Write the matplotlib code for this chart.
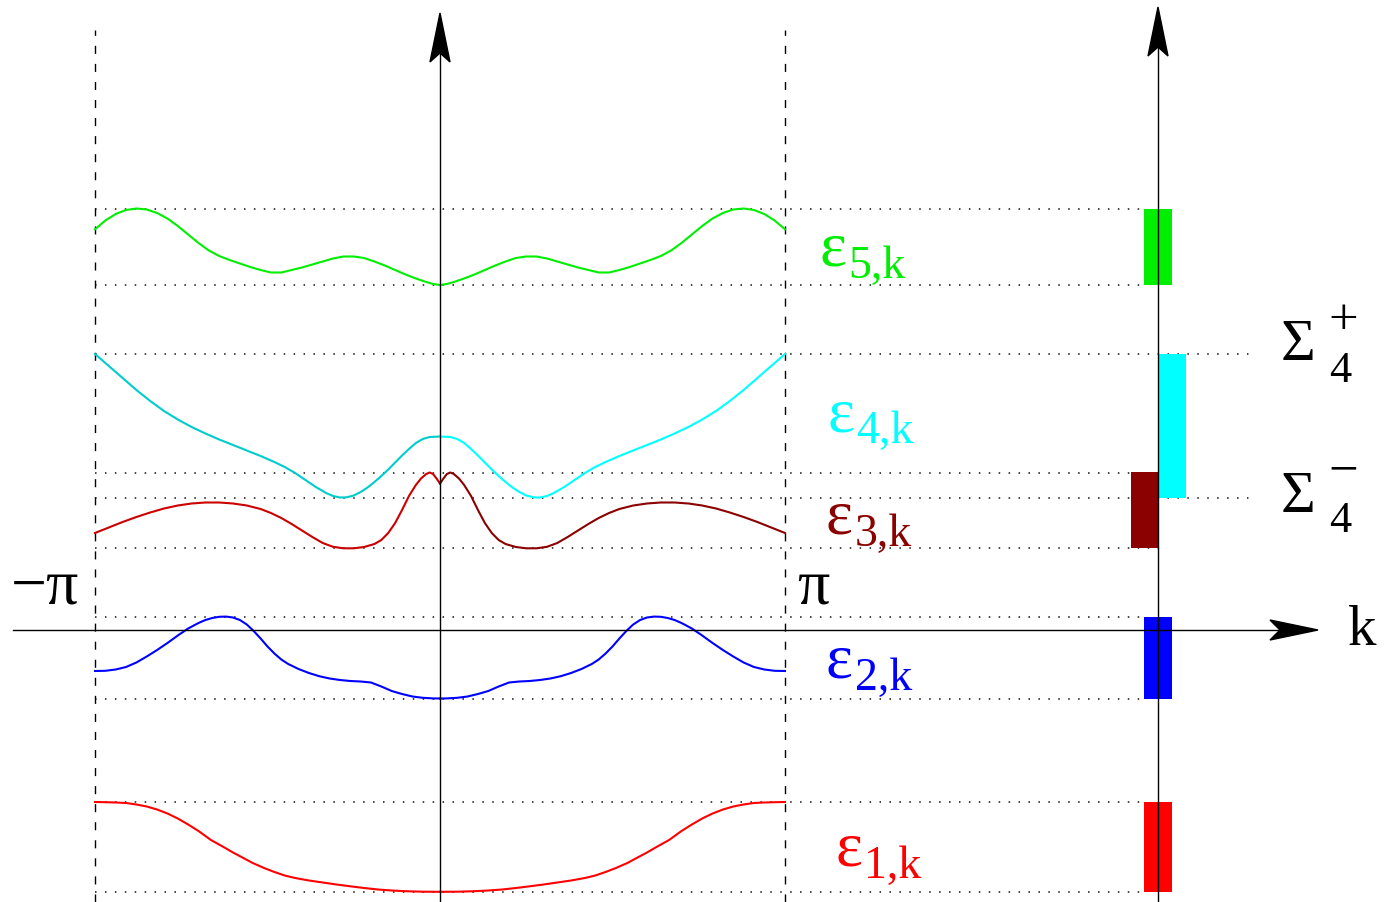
import numpy as np
import matplotlib
matplotlib.use('Agg')
import matplotlib.pyplot as plt
from matplotlib.patches import Rectangle, Polygon

# bands, k in units of pi, half zone (-1 .. 0); mirrored to 0 .. 1
k1 = [-1.00, -0.97, -0.94, -0.91, -0.88, -0.85, -0.82, -0.79, -0.76, -0.73,
      -0.70, -0.664, -0.63, -0.60, -0.57, -0.543, -0.51, -0.48, -0.45, -0.42,
      -0.38, -0.34, -0.30, -0.26, -0.22, -0.18, -0.14, -0.10, -0.05, 0.00]
e1 = [-1.72, -1.722, -1.725, -1.73, -1.745, -1.765, -1.795, -1.835, -1.885, -1.945,
      -2.01, -2.10, -2.165, -2.225, -2.28, -2.33, -2.38, -2.42, -2.455, -2.48,
      -2.505, -2.525, -2.545, -2.563, -2.58, -2.595, -2.605, -2.612, -2.617, -2.618]

k2 = [-1.00, -0.97, -0.94, -0.91, -0.88, -0.85, -0.82, -0.79, -0.76, -0.73,
      -0.70, -0.68, -0.66, -0.64, -0.62, -0.60, -0.58, -0.56, -0.54, -0.52,
      -0.50, -0.48, -0.46, -0.44, -0.41, -0.38, -0.35, -0.32, -0.29, -0.26,
      -0.23, -0.20, -0.17, -0.14, -0.11, -0.08, -0.05, -0.02, 0.00]
e2 = [-0.41, -0.408, -0.395, -0.37, -0.325, -0.265, -0.20, -0.13, -0.055, 0.015,
      0.07, 0.10, 0.12, 0.132, 0.134, 0.125, 0.10, 0.055, -0.01, -0.085,
      -0.165, -0.235, -0.295, -0.34, -0.39, -0.43, -0.462, -0.485, -0.50, -0.51,
      -0.515, -0.525, -0.565, -0.61, -0.64, -0.665, -0.678, -0.684, -0.685]

k3 = [-1.00, -0.96, -0.92, -0.88, -0.84, -0.80, -0.76, -0.72, -0.68, -0.64,
      -0.60, -0.56, -0.52, -0.49, -0.46, -0.43, -0.40, -0.37, -0.34, -0.31,
      -0.28, -0.25, -0.22, -0.19, -0.17, -0.15, -0.13, -0.11, -0.09, -0.07,
      -0.055, -0.04, -0.03, -0.02, -0.01, 0.00]
e3 = [0.97, 1.025, 1.08, 1.13, 1.175, 1.215, 1.245, 1.265, 1.275, 1.275,
      1.265, 1.245, 1.21, 1.17, 1.12, 1.06, 0.995, 0.93, 0.87, 0.832,
      0.817, 0.817, 0.83, 0.86, 0.90, 0.97, 1.07, 1.20, 1.34, 1.45,
      1.515, 1.56, 1.575, 1.56, 1.515, 1.465]

k4 = [-1.00, -0.96, -0.92, -0.88, -0.84, -0.80, -0.76, -0.72, -0.68, -0.64,
      -0.60, -0.56, -0.52, -0.48, -0.45, -0.42, -0.39, -0.36, -0.33, -0.31,
      -0.29, -0.27, -0.25, -0.23, -0.21, -0.19, -0.17, -0.15, -0.13, -0.11,
      -0.09, -0.07, -0.05, -0.03, 0.00]
e4 = [2.76, 2.64, 2.52, 2.40, 2.29, 2.19, 2.105, 2.03, 1.965, 1.905,
      1.85, 1.795, 1.74, 1.68, 1.63, 1.57, 1.50, 1.43, 1.37, 1.34,
      1.325, 1.327, 1.345, 1.38, 1.425, 1.48, 1.54, 1.605, 1.675, 1.745,
      1.81, 1.87, 1.91, 1.93, 1.935]

k5 = [-1.00, -0.97, -0.94, -0.91, -0.88, -0.85, -0.82, -0.79, -0.76, -0.73,
      -0.70, -0.67, -0.64, -0.61, -0.58, -0.55, -0.52, -0.49, -0.46, -0.43,
      -0.40, -0.37, -0.34, -0.31, -0.28, -0.25, -0.22, -0.19, -0.16, -0.13,
      -0.10, -0.07, -0.04, -0.02, 0.00]
e5 = [4.007, 4.095, 4.16, 4.20, 4.215, 4.205, 4.17, 4.115, 4.04, 3.955,
      3.87, 3.795, 3.74, 3.70, 3.665, 3.63, 3.60, 3.575, 3.575, 3.60,
      3.625, 3.655, 3.685, 3.715, 3.735, 3.735, 3.72, 3.685, 3.645, 3.60,
      3.555, 3.515, 3.48, 3.46, 3.45]

band_names = ['1,k', '2,k', '3,k', '4,k', '5,k']

SERIF = 'Liberation Serif'
X0, Y0 = 440.0, 630.0   # pixel of k=0, E=0
SX, SY = 345.0, 100.0   # pixels per unit


def ux(p):
    return (p - X0) / SX


def uy(p):
    return (Y0 - p) / SY


fig = plt.figure(figsize=(13.86, 9.02), dpi=100)
ax = fig.add_axes([0, 0, 1, 1])
ax.set_xlim(ux(0), ux(1386))
ax.set_ylim(uy(902), uy(0))
ax.axis('off')

kax = ux(1158)          # position of the right energy axis
w = 27.5 / SX           # width of the band bars
dot = (0, (1, 5.5))
dash = (0, (5.8, 7.2))

# (k, E, colour left, colour right, bar offset, dotted line ends, label colour, label pos)
bands = [
    (k1, e1, '#ff0000', '#ff0000', -w / 2, (1145, 1145), '#ff0000', (835, 878)),
    (k2, e2, '#0000ff', '#0000ff', -w / 2, (1145, 1145), '#0000ff', (826, 690)),
    (k3, e3, '#cc0000', '#8b0000', -w, (1165, 1130), '#8b0000', (826, 546)),
    (k4, e4, '#00cccc', '#00ffff', 0.0, (1250, 1250), '#00ffff', (827, 443)),
    (k5, e5, '#00ee00', '#00ee00', -w / 2, (1145, 1145), '#00ee00', (819, 278)),
]

for i, (k, e, cl, cr, off, ends, lc, lpos) in enumerate(bands):
    k = np.array(k)
    e = np.array(e)
    ax.plot(k, e, color=cl, lw=1.5, zorder=4, solid_joinstyle='round')
    ax.plot(-k[::-1], e[::-1], color=cr, lw=1.5, zorder=4, solid_joinstyle='round')
    lo, hi = e.min(), e.max()
    ax.plot([-1, ux(ends[0])], [lo, lo], color='#111111', lw=1.1, ls=dot, zorder=1)
    ax.plot([-1, ux(ends[1])], [hi, hi], color='#111111', lw=1.1, ls=dot, zorder=1)
    ax.add_patch(Rectangle((kax + off, lo), w, hi - lo, color=cr, lw=0, zorder=3))
    ax.text(ux(lpos[0]), uy(lpos[1] - 12), 'ε', fontsize=46, color=lc,
            family=SERIF, va='baseline', ha='left')
    ax.text(ux(lpos[0] + 29), uy(lpos[1]), band_names[i], fontsize=33, color=lc,
            family=SERIF, va='baseline', ha='left')

# zone boundaries
for kb in (-1, 1):
    ax.plot([kb, kb], [uy(902), uy(30)], color='black', lw=1, ls=dash, zorder=2)

# axes with arrow heads
L, hw, notch = 49, 10, 9
ax.plot([0, 0], [uy(902), uy(13 + L - notch)], color='black', lw=1, zorder=5)
ax.add_patch(Polygon([(0, uy(13)), (-hw / SX, uy(13 + L)), (0, uy(13 + L - notch)),
                      (hw / SX, uy(13 + L))], closed=True, color='black', zorder=5))
ax.plot([kax, kax], [uy(902), uy(7 + L - notch)], color='black', lw=1, zorder=5)
ax.add_patch(Polygon([(kax, uy(7)), (kax - hw / SX, uy(7 + L)), (kax, uy(7 + L - notch)),
                      (kax + hw / SX, uy(7 + L))], closed=True, color='black', zorder=5))
ax.plot([ux(13), ux(1318 - 48 + 10)], [0, 0], color='black', lw=1, zorder=5)
ax.add_patch(Polygon([(ux(1318), 0), (ux(1318 - 48), hw / SY), (ux(1318 - 38), 0),
                      (ux(1318 - 48), -hw / SY)], closed=True, color='black', zorder=5))

ax.text(ux(11), uy(603), '−π', fontsize=46, family=SERIF, va='baseline', ha='left')
ax.text(ux(797), uy(603), 'π', fontsize=46, family=SERIF, va='baseline', ha='left')
ax.text(ux(1348), uy(645), 'k', fontsize=41, family=SERIF, va='baseline', ha='left')

ax.text(ux(1281), uy(360), 'Σ', fontsize=43, family=SERIF, va='baseline', ha='left')
ax.text(ux(1329), uy(382), '4', fontsize=32, family=SERIF, va='baseline', ha='left')
ax.text(ux(1328), uy(334), '+', fontsize=38, family=SERIF, va='baseline', ha='left')
ax.text(ux(1281), uy(512), 'Σ', fontsize=43, family=SERIF, va='baseline', ha='left')
ax.text(ux(1329), uy(532), '4', fontsize=32, family=SERIF, va='baseline', ha='left')
ax.text(ux(1328), uy(485), '−', fontsize=38, family=SERIF, va='baseline', ha='left')

fig.savefig('out.png', dpi=100)
